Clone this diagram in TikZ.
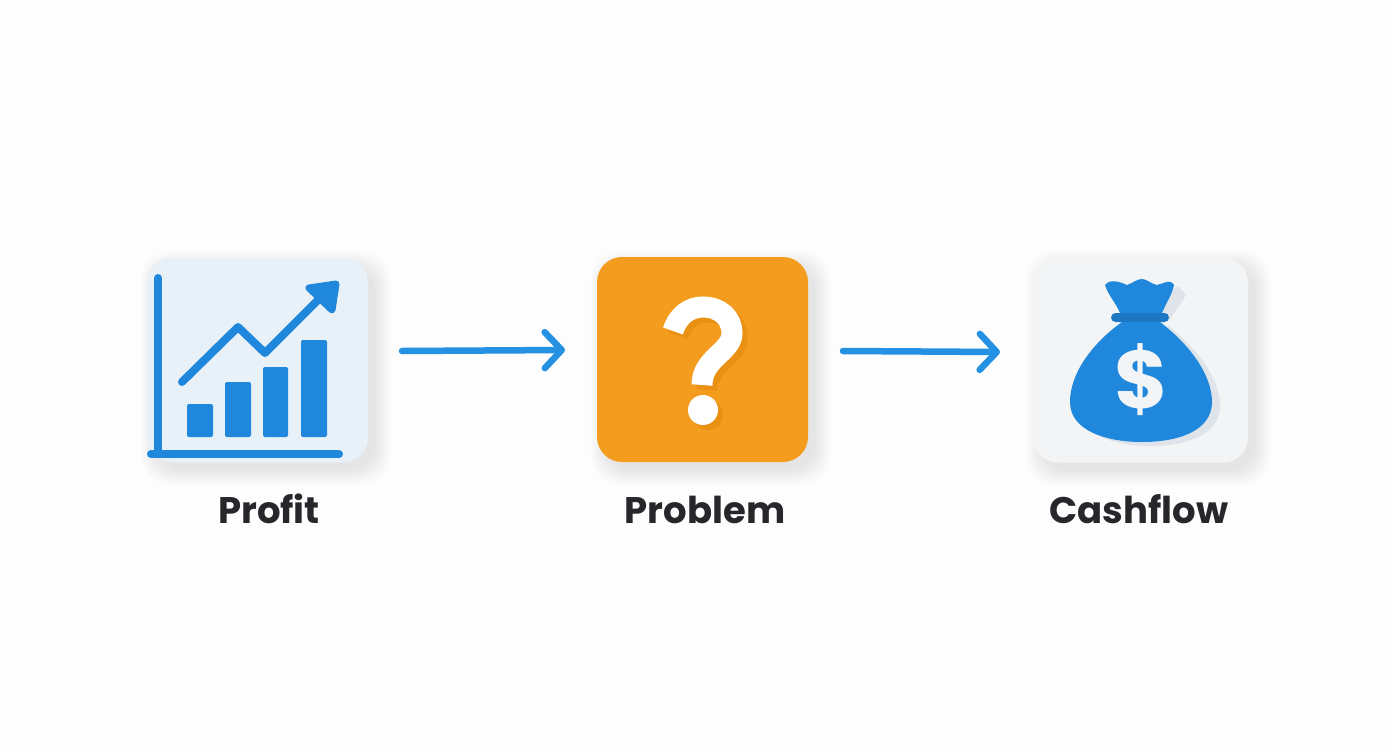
\documentclass[tikz,border=0pt]{standalone}
\usepackage{fontspec}
\setmainfont{Poppins}
\usetikzlibrary{arrows.meta}
\definecolor{bluemain}{HTML}{2088DC}
\definecolor{arrowblue}{HTML}{2491E3}
\definecolor{pale}{HTML}{E8F1F8}
\definecolor{greybox}{HTML}{F3F4F6}
\definecolor{orangebox}{HTML}{F49C1E}
\definecolor{orangedark}{HTML}{EA9012}
\definecolor{bagshadow}{HTML}{DFE4EA}
\definecolor{labeltext}{HTML}{26262B}
\definecolor{page}{HTML}{FDFDFD}
\tikzset{
  x=1pt,y=-1pt,
  iconbox/.style={rounded corners=25pt,minimum width=#1,minimum height=205pt,inner sep=0pt,outer sep=0pt},
  softshadow/.style={fill=black,opacity=0.012,draw=none},
  conn/.style={draw=arrowblue,line width=6.5pt,line cap=round,-{Straight Barb[length=17pt,width=36pt,round]}},
  lbl/.style={font=\fontsize{37}{40}\selectfont\bfseries,text=labeltext,inner sep=0pt,anchor=base},
  bar/.style={fill=bluemain,rounded corners=2pt},
  stroke/.style={draw=bluemain,line width=8pt,line cap=round,line join=round},
}
\newcommand{\softshade}[4]{% x1 y1 x2 y2 of the box
  \foreach \g in {0,2,...,14}{
    \fill[softshadow,rounded corners=28pt] (#1+8-\g,#2+8-\g) rectangle (#3+8+\g,#4+8+\g);
  }
}
\begin{document}
\begin{tikzpicture}
\useasboundingbox (0,0) rectangle (1392,752);
\fill[page] (0,0) rectangle (1392,752);
% shadows
\softshade{147}{258}{368}{462}
\softshade{597}{257}{808}{462}
\softshade{1033}{257}{1248}{463}
% boxes
\node[iconbox=221pt,fill=pale] (box1) at (257.5,360) {};
\node[iconbox=211pt,fill=orangebox] (box2) at (702.5,359.5) {};
\node[iconbox=215pt,fill=greybox] (box3) at (1140.5,360) {};
% chart
\draw[stroke] (158,278) -- (158,454);
\draw[stroke] (151,454) -- (339,454);
\fill[bar] (187,404) rectangle (213,437);
\fill[bar] (225,382) rectangle (251,437);
\fill[bar] (263,367) rectangle (288,437);
\fill[bar] (301,340) rectangle (327,437);
\draw[stroke] (182,382) -- (238,327) -- (265,353) -- (325,293);
\fill[bluemain,draw=bluemain,line width=7pt,line join=round] (309,288) -- (336,284) -- (332,310) -- cycle;
% question mark
\begin{scope}[shift={(5,5)}]
\draw[orangedark,line width=21pt] (673,331) .. controls (678,315) and (690,307) .. (703,307) .. controls (720,307) and (732,318) .. (732,333) .. controls (732,352) and (702,358) .. (702,385);
\fill[orangedark] (703,410) circle (15);
\end{scope}
\draw[white,line width=21pt] (673,331) .. controls (678,315) and (690,307) .. (703,307) .. controls (720,307) and (732,318) .. (732,333) .. controls (732,352) and (702,358) .. (702,385);
\fill[white] (703,410) circle (15);
% money bag shadow
\fill[bagshadow] (1122,322) .. controls (1090,345) and (1070,375) .. (1070,402) .. controls (1070,430) and (1105,442) .. (1142,442) .. controls (1180,442) and (1212,430) .. (1212,402) .. controls (1212,375) and (1190,345) .. (1160,322) -- cycle;
\begin{scope}[shift={(8,4)}]
\fill[bagshadow] (1122,322) .. controls (1090,345) and (1070,375) .. (1070,402) .. controls (1070,430) and (1105,442) .. (1142,442) .. controls (1180,442) and (1212,430) .. (1212,402) .. controls (1212,375) and (1190,345) .. (1160,322) -- cycle;
\end{scope}
\fill[bagshadow] (1165,295) -- (1178,286) -- (1186,295) -- (1170,320) -- (1160,320) -- cycle;
% money bag
\fill[bluemain] (1122,322) .. controls (1090,345) and (1070,375) .. (1070,402) .. controls (1070,430) and (1105,442) .. (1142,442) .. controls (1180,442) and (1212,430) .. (1212,402) .. controls (1212,375) and (1190,345) .. (1160,322) -- cycle;
\fill[bluemain] (1105,285) .. controls (1110,279) and (1118,281) .. (1127,285) .. controls (1133,283) and (1137,279) .. (1142,279) .. controls (1147,279) and (1151,284) .. (1157,285) .. controls (1163,284) and (1170,278) .. (1174,285) .. controls (1172,295) and (1166,303) .. (1162,313) -- (1120,313) .. controls (1116,303) and (1108,295) .. (1105,285) -- cycle;
\fill[bluemain!88!black,rounded corners=4.5pt] (1111,313) rectangle (1169,322);
\node[font=\fontsize{82}{82}\selectfont\bfseries,text=greybox,inner sep=0pt] (dollar) at (1141,380) {\$};
% labels
\node[lbl] (l1) at (269,523) {Profit};
\node[lbl] (l2) at (705,523) {Problem};
\node[lbl] (l3) at (1139,523) {Cashflow};
% connectors
\draw[conn] ([xshift=34pt,yshift=9pt]box1.east) -- ([xshift=-32pt,yshift=9.5pt]box2.west);
\draw[conn] ([xshift=35pt,yshift=8.5pt]box2.east) -- ([xshift=-33pt,yshift=8pt]box3.west);
\end{tikzpicture}
\end{document}
